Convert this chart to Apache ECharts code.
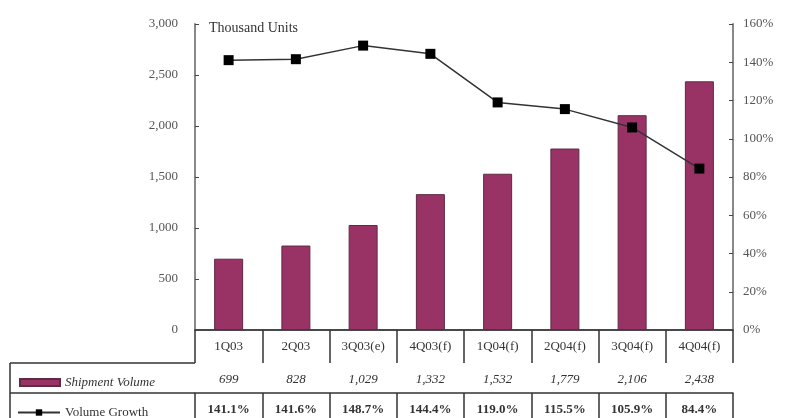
<!DOCTYPE html>
<html>
<head>
<meta charset="utf-8">
<script src="https://cdn.jsdelivr.net/npm/echarts@6/dist/echarts.min.js"></script>
<style>html,body{margin:0;padding:0;background:#fff}#c{width:788px;height:418px}</style>
</head>
<body>
<div id="c"></div>
<script>
const categories = ['1Q03', '2Q03', '3Q03(e)', '4Q03(f)', '1Q04(f)', '2Q04(f)', '3Q04(f)', '4Q04(f)'];
const shipmentVolume = [699, 828, 1029, 1332, 1532, 1779, 2106, 2438];
const volumeGrowth = [141.1, 141.6, 148.7, 144.4, 119.0, 115.5, 105.9, 84.4];
const leftTicks = { min: 0, max: 3000, interval: 500 };
const rightTicks = { min: 0, max: 160, interval: 20 };

const serif = 'Liberation Serif';
const lineCol = '#333';
const chart = echarts.init(document.getElementById('c'));
const fmtNum = v => v.toLocaleString('en-US');
const fmtPct = v => v.toFixed(1) + '%';

const tableAxis = (labels, offset, len, style) => ({
  type: 'category', data: labels, position: 'bottom', offset: offset, gridIndex: 0,
  axisLine: { show: true, lineStyle: { color: lineCol, width: 1.5 } },
  axisTick: { show: true, length: len, lineStyle: { color: lineCol, width: 1.5 } },
  axisLabel: Object.assign({ margin: 10, fontFamily: serif, fontSize: 13, color: '#333' }, style)
});

chart.setOption({
  animation: false,
  title: { text: 'Thousand Units', left: 204, top: 16,
    textStyle: { fontFamily: serif, fontSize: 14, fontWeight: 'normal', color: '#333' } },
  grid: { left: 195, right: 55, top: 24, bottom: 88 },
  legend: [
    { data: [{ name: 'Shipment Volume', icon: 'rect' }], left: 14, top: 371, itemWidth: 40, itemHeight: 7, itemGap: 0,
      textStyle: { fontFamily: serif, fontSize: 13, fontStyle: 'italic', color: '#333' } },
    { data: ['Volume Growth'], left: 12, top: 401, itemWidth: 42, itemHeight: 8, itemGap: 0,
      textStyle: { fontFamily: serif, fontSize: 13, color: '#333' } }
  ],
  xAxis: [
    Object.assign(tableAxis(categories, 0, 33, {}), {
      axisLine: { show: true, lineStyle: { color: '#888', width: 2 } } }),
    tableAxis(shipmentVolume.map(fmtNum), 33, 30, { fontStyle: 'italic' }),
    tableAxis(volumeGrowth.map(fmtPct), 63, 30, { fontWeight: 'bold' })
  ],
  yAxis: [
    { type: 'value', min: leftTicks.min, max: leftTicks.max, interval: leftTicks.interval,
      splitLine: { show: false },
      axisLine: { show: true, lineStyle: { color: '#888', width: 2 } },
      axisTick: { show: true, inside: true, length: 4, lineStyle: { color: '#444' } },
      axisLabel: { margin: 17, fontFamily: serif, fontSize: 13, color: '#555', formatter: fmtNum } },
    { type: 'value', min: rightTicks.min, max: rightTicks.max, interval: rightTicks.interval,
      splitLine: { show: false },
      axisLine: { show: true, lineStyle: { color: '#888', width: 2 } },
      axisTick: { show: true, inside: true, length: 4, lineStyle: { color: '#444' } },
      axisLabel: { margin: 10, fontFamily: serif, fontSize: 13, color: '#555', formatter: v => v + '%' } }
  ],
  series: [
    { name: 'Shipment Volume', type: 'bar', data: shipmentVolume, xAxisIndex: 0, yAxisIndex: 0,
      barWidth: 29,
      itemStyle: { color: '#993366', borderColor: '#5e2a45', borderWidth: 1 } },
    { name: 'Volume Growth', type: 'line', data: volumeGrowth, xAxisIndex: 0, yAxisIndex: 1,
      symbol: 'rect', symbolSize: 10,
      lineStyle: { color: '#333', width: 1.5 },
      itemStyle: { color: '#000' } }
  ],
  graphic: [
    { type: 'line', shape: { x1: 10, y1: 363, x2: 195, y2: 363 }, style: { stroke: lineCol, lineWidth: 1.5 } },
    { type: 'line', shape: { x1: 10, y1: 393, x2: 195, y2: 393 }, style: { stroke: lineCol, lineWidth: 1.5 } },
    { type: 'line', shape: { x1: 10, y1: 363, x2: 10, y2: 418 }, style: { stroke: lineCol, lineWidth: 1.5 } }
  ]
});
</script>
</body>
</html>
